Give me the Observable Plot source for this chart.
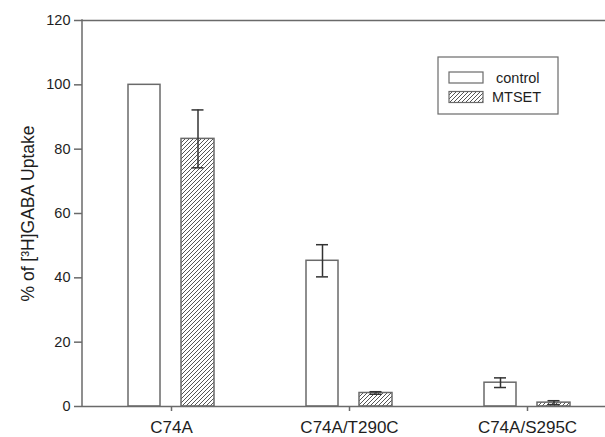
<!DOCTYPE html>
<html>
<head>
<meta charset="utf-8">
<script src="https://cdn.jsdelivr.net/npm/d3@7"></script>
<script src="https://cdn.jsdelivr.net/npm/@observablehq/plot@0.6"></script>
<style>
  html, body { margin: 0; padding: 0; background: white; overflow: hidden; }
  #chart { position: relative; width: 605px; height: 437px; }
</style>
</head>
<body>
<div id="chart"></div>
<script>
const categories = ["C74A", "C74A/T290C", "C74A/S295C"];
const controlMean = [100, 45.3, 7.4];
const controlErr = [0, 5, 1.5];
const mtsetMean = [83.2, 4.2, 1.2];
const mtsetErr = [9, 0.4, 0.6];
const yTicks = [0, 20, 40, 60, 80, 100, 120];
const seriesNames = ["control", "MTSET"];
const yLabel = "% of [³H]GABA Uptake";

const control = categories.map((c, i) => ({cat: c, v: controlMean[i], e: controlErr[i]}));
const mtset = categories.map((c, i) => ({cat: c, v: mtsetMean[i], e: mtsetErr[i]}));

const W = 605, H = 437, ML = 82, MT = 20, MB = 31;
const lineColor = "#6a6a6a";
const errColor = "#333";

const plot = Plot.plot({
  width: W,
  height: H,
  marginLeft: ML,
  marginRight: 0,
  marginTop: MT,
  marginBottom: MB,
  style: {fontFamily: "'Liberation Sans', Arial, sans-serif", fontSize: "14px", color: "#1e1e1e", background: "white", overflow: "visible"},
  x: {type: "band", domain: categories, range: [82, 616], padding: 0, label: null},
  y: {domain: [0, 120], label: null},
  marks: [
    Plot.barY(control, {x: "cat", y: "v", fill: "white", stroke: lineColor, strokeWidth: 1.5, insetLeft: 46, insetRight: 100}),
    Plot.barY(mtset, {x: "cat", y: "v", fill: "url(#hatch)", stroke: lineColor, strokeWidth: 1.5, insetLeft: 99, insetRight: 46}),
    Plot.ruleX(control.filter(d => d.e > 0), {x: "cat", y1: d => d.v - d.e, y2: d => d.v + d.e, dx: -27, stroke: errColor, strokeWidth: 1.5}),
    Plot.tickY(control.filter(d => d.e > 0), {x: "cat", y: d => d.v + d.e, insetLeft: 56, insetRight: 110, stroke: errColor, strokeWidth: 1.5}),
    Plot.tickY(control.filter(d => d.e > 0), {x: "cat", y: d => d.v - d.e, insetLeft: 56, insetRight: 110, stroke: errColor, strokeWidth: 1.5}),
    Plot.ruleX(mtset.filter(d => d.e > 0), {x: "cat", y1: d => d.v - d.e, y2: d => d.v + d.e, dx: 26.5, stroke: errColor, strokeWidth: 1.5}),
    Plot.tickY(mtset.filter(d => d.e > 0), {x: "cat", y: d => d.v + d.e, insetLeft: 109.5, insetRight: 56.5, stroke: errColor, strokeWidth: 1.5}),
    Plot.tickY(mtset.filter(d => d.e > 0), {x: "cat", y: d => d.v - d.e, insetLeft: 109.5, insetRight: 56.5, stroke: errColor, strokeWidth: 1.5}),
    Plot.ruleY([0, 120], {stroke: lineColor, strokeWidth: 1.5}),
    Plot.axisY({ticks: yTicks, tickSize: 8, tickPadding: 4, fontSize: 14.5, stroke: lineColor, strokeWidth: 1.5, label: null}),
    Plot.axisX({tickSize: 5, tickPadding: 9, fontSize: 17, stroke: lineColor, strokeWidth: 1.5, label: null}),
    Plot.text([yLabel], {frameAnchor: "left", rotate: -90, dx: -54, fontSize: 17.5, fill: "#1e1e1e", textAnchor: "middle", lineAnchor: "middle"})
  ]
});

const NS = "http://www.w3.org/2000/svg";
function el(tag, attrs, parent) {
  const e = document.createElementNS(NS, tag);
  for (const k in attrs) e.setAttribute(k, attrs[k]);
  if (parent) parent.appendChild(e);
  return e;
}

// hatch pattern
const defs = el("defs", {});
plot.insertBefore(defs, plot.firstChild);
const pat = el("pattern", {id: "hatch", patternUnits: "userSpaceOnUse", width: 4, height: 4}, defs);
el("rect", {width: 4, height: 4, fill: "white"}, pat);
el("path", {d: "M-1,1 l2,-2 M0,4 l4,-4 M3,5 l2,-2", stroke: "#555", "stroke-width": 1}, pat);

// left axis line
const yr = plot.scale("y").range;
el("line", {x1: ML, x2: ML, y1: yr[0] + 0.75, y2: yr[1] - 0.75, stroke: lineColor, "stroke-width": 1.5}, plot);

// legend
const lg = el("g", {"font-family": "'Liberation Sans', Arial, sans-serif", "font-size": "14.5px", fill: "#1e1e1e", "text-anchor": "start"}, plot);
el("rect", {x: 438, y: 57, width: 120, height: 57, fill: "white", stroke: lineColor, "stroke-width": 1.2}, lg);
const swFill = ["white", "url(#hatch)"];
seriesNames.forEach((name, i) => {
  const cy = 77.5 + i * 19.5;
  el("rect", {x: 449, y: cy - 5.5, width: 34, height: 11, fill: swFill[i], stroke: lineColor, "stroke-width": 1.2}, lg);
  const t = el("text", {x: i === 0 ? 496 : 492, y: cy, dy: "0.35em", "text-anchor": "start", "font-size": "14.5px"}, lg);
  t.textContent = name;
});

document.getElementById("chart").appendChild(plot);
</script>
</body>
</html>
